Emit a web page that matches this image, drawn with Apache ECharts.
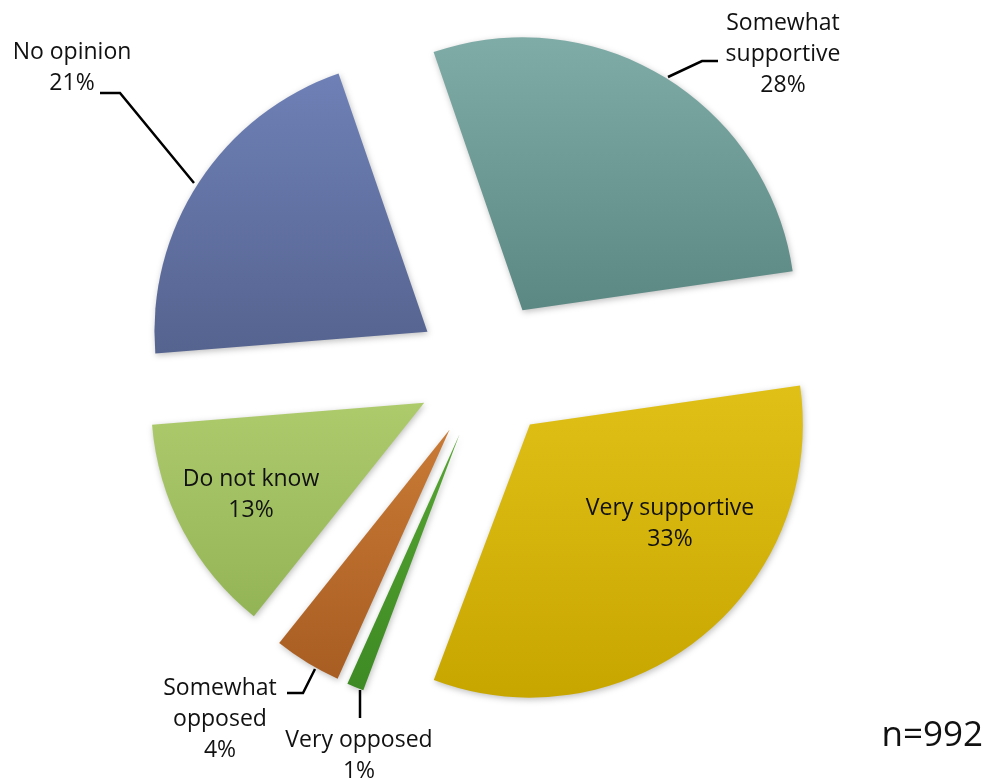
<!DOCTYPE html>
<html>
<head>
<meta charset="utf-8">
<script src="https://cdn.jsdelivr.net/npm/echarts@6/dist/echarts.min.js"></script>
<style>
  html, body { margin: 0; padding: 0; background: #ffffff; }
  #chart { width: 990px; height: 780px; }
</style>
</head>
<body>
<div id="chart"></div>
<script>
// ---- data ----
const categories = ['Somewhat supportive', 'Very supportive', 'Very opposed', 'Somewhat opposed', 'Do not know', 'No opinion'];
const percentages = [28, 33, 1, 4, 13, 21];
const sampleNote = 'n=992';

// ---- styling (kept separate from data) ----
const sliceColors = [
  ['#80aca7', '#5c8884'],
  ['#e0c017', '#c8a600'],
  ['#56a532', '#3e8a24'],
  ['#c97a35', '#a85d22'],
  ['#aecb6c', '#93b455'],
  ['#6e80b6', '#55638f']
];
const insideLabel = [false, true, false, false, true, false];
const labelPlacements = [
  { x: 783, y: 54, line: [[668, 77], [702, 61], [718, 61]] },
  { x: 670, y: 524 },
  { x: 359, y: 756, line: [[360, 690], [360, 704], [360, 718]] },
  { x: 220, y: 719, line: [[315, 669], [303, 693], [287, 693]] },
  { x: 251, y: 495 },
  { x: 72, y: 68, line: [[194, 183], [120, 93], [100, 93]] }
];

const PIE_CENTER = [486, 370];
const PIE_RADIUS = [0, 273];
const START_ANGLE = 109;

const chart = echarts.init(document.getElementById('chart'), null, { renderer: 'canvas' });

// exploded, coloured slices
const sliceData = categories.map((name, i) => ({
  name: name,
  value: percentages[i],
  selected: true,
  itemStyle: {
    color: new echarts.graphic.LinearGradient(0, 0, 0, 1, [
      { offset: 0, color: sliceColors[i][0] },
      { offset: 1, color: sliceColors[i][1] }
    ])
  }
}));

// invisible twin carrying the labels (no selection state to fight with)
const labelData = categories.map((name, i) => ({
  name: name,
  value: percentages[i],
  labelLine: { show: !insideLabel[i] }
}));

chart.setOption({
  animation: false,
  backgroundColor: '#ffffff',
  graphic: [{
    type: 'text',
    x: 983,
    y: 736,
    style: {
      text: sampleNote,
      align: 'right',
      verticalAlign: 'middle',
      textAlign: 'right',
      textVerticalAlign: 'middle',
      fontFamily: 'Open Sans',
      fontSize: 35,
      fill: '#111111'
    }
  }],
  series: [{
    type: 'pie',
    center: PIE_CENTER,
    radius: PIE_RADIUS,
    startAngle: START_ANGLE,
    clockwise: true,
    selectedMode: 'multiple',
    selectedOffset: 70,
    emphasis: { disabled: true },
    itemStyle: {
      shadowBlur: 6,
      shadowColor: 'rgba(0,0,0,0.25)',
      shadowOffsetX: 1,
      shadowOffsetY: 2
    },
    label: { show: false },
    labelLine: { show: false },
    data: sliceData
  }, {
    type: 'pie',
    center: PIE_CENTER,
    radius: PIE_RADIUS,
    startAngle: START_ANGLE,
    clockwise: true,
    silent: true,
    selectedMode: false,
    avoidLabelOverlap: false,
    emphasis: { disabled: true },
    itemStyle: { color: 'rgba(0,0,0,0)' },
    label: {
      show: true,
      position: 'outside',
      formatter: p => p.name.replace('Somewhat ', 'Somewhat\n') + '\n' + p.percent + '%',
      fontFamily: 'Open Sans',
      fontSize: 23,
      lineHeight: 31,
      color: '#111111',
      align: 'center'
    },
    labelLine: {
      show: true,
      lineStyle: { color: '#000000', width: 2.5 }
    },
    labelLayout: function (params) {
      const p = labelPlacements[params.dataIndex];
      const res = { x: p.x, y: p.y, align: 'center', verticalAlign: 'middle' };
      if (p.line) res.labelLinePoints = p.line;
      return res;
    },
    data: labelData
  }]
});
</script>
</body>
</html>
